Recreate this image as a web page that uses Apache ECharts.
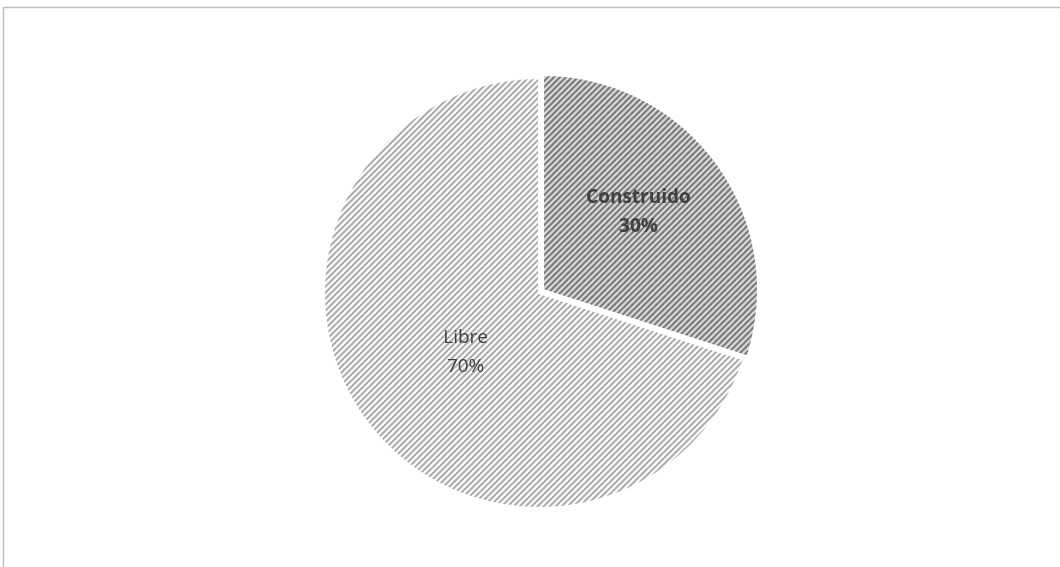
<!DOCTYPE html>
<html>
<head>
<meta charset="utf-8">
<script src="https://cdn.jsdelivr.net/npm/echarts@6/dist/echarts.min.js"></script>
<style>
html,body{margin:0;padding:0;background:#fff;}
#c{width:1060px;height:567px;}
</style>
</head>
<body>
<div id="c"></div>
<script>
var categories = ['Construido', 'Libre'];
var values = [30, 70];
var percentLabels = ['30%', '70%'];

function stripeTile(fg, bg, size, lw) {
  var cv = document.createElement('canvas');
  cv.width = size; cv.height = size;
  var ctx = cv.getContext('2d');
  ctx.fillStyle = bg;
  ctx.fillRect(0, 0, size, size);
  ctx.strokeStyle = fg;
  ctx.lineWidth = lw;
  for (var k = -1; k <= 1; k++) {
    ctx.beginPath();
    ctx.moveTo(k * size - size, 2 * size);
    ctx.lineTo(k * size + 2 * size, -size);
    ctx.stroke();
  }
  return cv;
}

var patterns = [
  { image: stripeTile('#7a7a7a', '#dedede', 6, 2.2), repeat: 'repeat' },
  { image: stripeTile('#acacac', '#ffffff', 6, 2.0), repeat: 'repeat' }
];
var labelStyles = [
  { fontWeight: 'bold' },
  { fontWeight: 'normal' }
];
var labelShift = [[6, -13], [16, -6]];

var chart = echarts.init(document.getElementById('c'), null, { renderer: 'canvas' });
var data = categories.map(function (name, i) {
  return {
    name: name,
    value: values[i],
    selected: i === 0,
    itemStyle: { color: patterns[i] },
    label: labelStyles[i]
  };
});

chart.setOption({
  animation: false,
  graphic: [{
    type: 'polyline',
    silent: true,
    shape: { points: [[3.5, 567], [3.5, 7.5], [1060, 7.5]] },
    style: { stroke: '#bfbfbf', lineWidth: 1.5, fill: null }
  }],
  series: [{
    type: 'pie',
    center: [539, 293],
    radius: 215,
    startAngle: 90,
    clockwise: true,
    selectedMode: 'single',
    selectedOffset: 5,
    silent: true,
    itemStyle: { borderColor: '#ffffff', borderWidth: 2 },
    emphasis: { disabled: true },
    label: {
      show: true,
      position: 'inside',
      formatter: function (p) { return p.name + '\n' + percentLabels[p.dataIndex]; },
      fontFamily: 'Open Sans',
      fontSize: 19,
      lineHeight: 29,
      color: '#404040'
    },
    labelLine: { show: false },
    labelLayout: function (p) {
      return { dx: labelShift[p.dataIndex][0], dy: labelShift[p.dataIndex][1] };
    },
    data: data
  }]
});
</script>
</body>
</html>
